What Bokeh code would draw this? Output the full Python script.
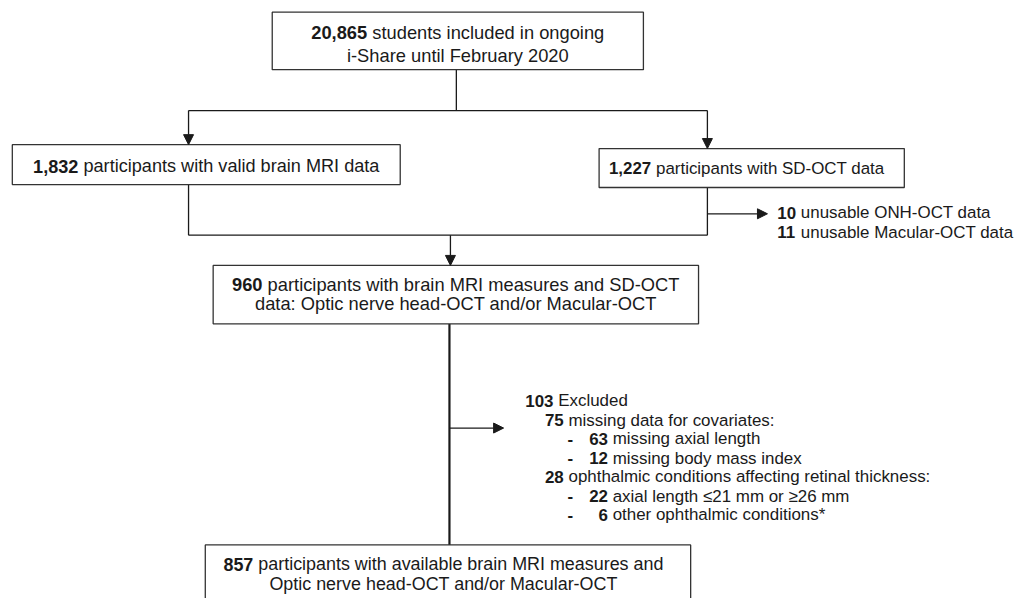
from bokeh.plotting import figure
from bokeh.models import Range1d, Arrow, NormalHead
from bokeh.embed import file_html
from bokeh.resources import INLINE
from bokeh.core.properties import value

# ---------------- data ----------------
box_counts = ["20,865", "1,832", "1,227", "960", "857"]
box_first = ["students included in ongoing",
             "participants with valid brain MRI data",
             "participants with SD-OCT data",
             "participants with brain MRI measures and SD-OCT",
             "participants with available brain MRI measures and"]
box_second = ["i-Share until February 2020", "", "",
              "data: Optic nerve head-OCT and/or Macular-OCT",
              "Optic nerve head-OCT and/or Macular-OCT"]

unusable_counts = ["10", "11"]
unusable_labels = ["unusable ONH-OCT data", "unusable Macular-OCT data"]

excl_levels = [0, 1, 2, 2, 1, 2, 2]
excl_counts = ["103", "75", "63", "12", "28", "22", "6"]
excl_labels = ["Excluded", "missing data for covariates:", "missing axial length",
               "missing body mass index", "ophthalmic conditions affecting retinal thickness:",
               "axial length \u226421 mm or \u226526 mm", "other ophthalmic conditions*"]

# ---------------- layout (reference pixel coordinates) ----------------
BOXES = [  # left, right, top, bottom, text centre x, line y's, font size
    (276, 653, 12, 71, 464.5, [33, 56], 18.6),
    (12, 406, 148, 189, 209, [170], 18.4),
    (608, 918, 152, 192, 758, [172], 17.2),
    (216, 709, 272, 332, 462.5, [292, 311], 18.6),
    (208, 701, 559, 640, 450, [579, 599], 18.2),
]
SEGS = [(463, 71, 463, 113), (191, 113, 718, 113), (191, 189, 191, 241),
        (718, 192, 718, 241), (191, 241, 718, 241)]
MAIN = (456, 332, 456, 559)
ARROWS = [(191, 113, 191, 148), (718, 113, 718, 152), (718, 219, 779, 219),
          (457, 241, 457, 272), (456, 439, 511, 439)]
SIDE_X, SIDE_Y = 789, [218, 238]
EXCL_Y = [411, 431, 450, 470, 489, 509, 528]
EXCL_X0, EXCL_X1, DASH_X, NUM_RIGHT = 533, 553, 576, 617

FONT = "Liberation Sans"
FS_SMALL = 17.2
TXT = "#1a1a1a"
LINE = "#1a1a1a"

PW, PH = 1019, 598
REF_W, REF_H = 1035, 614
SX = PW / REF_W

W = {' ': 278, ',': 278, '-': 333, ':': 278, '/': 278, '*': 389, '.': 278,
     '0': 556, '1': 556, '2': 556, '3': 556, '4': 556, '5': 556, '6': 556, '7': 556, '8': 556, '9': 556,
     'A': 667, 'B': 667, 'C': 722, 'D': 722, 'E': 667, 'F': 611, 'G': 778, 'H': 722, 'I': 278,
     'M': 833, 'N': 722, 'O': 778, 'R': 722, 'S': 667, 'T': 611,
     'a': 556, 'b': 556, 'c': 500, 'd': 556, 'e': 556, 'f': 278, 'g': 556, 'h': 556, 'i': 222,
     'k': 500, 'l': 222, 'm': 833, 'n': 556, 'o': 556, 'p': 556, 'r': 333, 's': 500, 't': 278,
     'u': 556, 'v': 500, 'w': 722, 'x': 500, 'y': 500, 'z': 500}


def tw(s, fs):
    # width in reference-pixel (data) units for a font size given in reference pixels
    return sum(W.get(ch, 556) for ch in s) / 1000.0 * fs


p = figure(width=PW, height=PH, x_range=Range1d(0, REF_W), y_range=Range1d(REF_H, 0),
           output_backend="svg", toolbar_location=None, min_border=0,
           x_axis_type=None, y_axis_type=None)
p.grid.visible = False
p.outline_line_color = None
p.background_fill_color = "white"
p.border_fill_color = "white"

# connectors
p.segment([s[0] for s in SEGS], [s[1] for s in SEGS], [s[2] for s in SEGS], [s[3] for s in SEGS],
          line_color=LINE, line_width=1.3)
p.segment([MAIN[0]], [MAIN[1]], [MAIN[2]], [MAIN[3]], line_color=LINE, line_width=2.2)
for (x0, y0, x1, y1) in ARROWS:
    p.add_layout(Arrow(x_start=x0, y_start=y0, x_end=x1, y_end=y1, line_color=LINE, line_width=1.3,
                       end=NormalHead(size=10, fill_color=LINE, line_color=LINE, line_width=1)))

# boxes
p.quad(left=[b[0] for b in BOXES], right=[b[1] for b in BOXES],
       top=[b[2] for b in BOXES], bottom=[b[3] for b in BOXES],
       fill_color="white", line_color="#333333", line_width=1.3)


def txt(x, y, s, fs, bold=False, align="left"):
    p.text([x], [y], text=[s], text_font=value(FONT),
           text_font_size=value(f"{fs * SX:.2f}px"),
           text_font_style="bold" if bold else "normal", text_align=align,
           text_baseline="middle", text_color=TXT)


for i, b in enumerate(BOXES):
    cx, ys, fs = b[4], b[5], b[6]
    c, first = box_counts[i], box_first[i]
    total = tw(c + " " + first, fs)
    left = cx - total / 2
    txt(left, ys[0], c, fs, bold=True)
    txt(left + tw(c + " ", fs), ys[0], first, fs)
    if box_second[i]:
        txt(cx, ys[1], box_second[i], fs, align="center")

for c, lab, y in zip(unusable_counts, unusable_labels, SIDE_Y):
    txt(SIDE_X, y, c, FS_SMALL, bold=True)
    txt(SIDE_X + tw(c + " ", FS_SMALL), y, lab, FS_SMALL)

for lev, c, lab, y in zip(excl_levels, excl_counts, excl_labels, EXCL_Y):
    if lev == 0:
        txt(EXCL_X0, y, c, FS_SMALL, bold=True)
        txt(EXCL_X0 + tw(c + " ", FS_SMALL), y, lab, FS_SMALL)
    elif lev == 1:
        txt(EXCL_X1, y, c, FS_SMALL, bold=True)
        txt(EXCL_X1 + tw(c + " ", FS_SMALL), y, lab, FS_SMALL)
    else:
        txt(DASH_X, y, "-", FS_SMALL, bold=True)
        txt(NUM_RIGHT, y, c, FS_SMALL, bold=True, align="right")
        txt(NUM_RIGHT + tw(" ", FS_SMALL), y, lab, FS_SMALL)

open("out.html", "w").write(file_html(p, INLINE))
